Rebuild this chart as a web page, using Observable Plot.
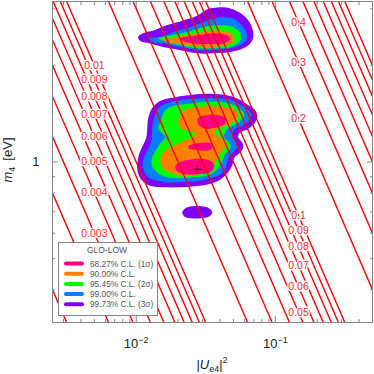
<!DOCTYPE html>
<html><head><meta charset="utf-8">
<script src="https://cdn.jsdelivr.net/npm/d3@7"></script>
<script src="https://cdn.jsdelivr.net/npm/@observablehq/plot@0.6"></script>
<style>body{margin:0;background:#fff}#chart{width:374px;height:374px;position:relative}</style>
</head><body><div id="chart"></div>
<script>
// iso-lines of |U_e4|^2 * m_4 [eV]
const levels = [0.001,0.002,0.003,0.004,0.005,0.006,0.007,0.008,0.009,
  0.01,0.02,0.03,0.04,0.05,0.06,0.07,0.08,0.09,
  0.1,0.2,0.3,0.4,0.5,0.6,0.7,0.8,0.9,1];
const labelsLow = [0.003,0.004,0.005,0.006,0.007,0.008,0.009,0.01];
const labelsHigh = [0.05,0.06,0.07,0.08,0.09,0.1,0.2,0.3,0.4];

const xMajor = [0.01, 0.1];
const xMinor = [0.003,0.004,0.005,0.006,0.007,0.008,0.009,0.02,0.03,0.04,0.05,0.06,0.07,0.08,0.09,0.2,0.3,0.4];
const yMajor = [1];
const yMinor = [0.4,0.5,0.6,0.7,0.8,0.9,2,3];

const legendTitle = "GLO-LOW";
const clLabels = ["68.27% C.L. (1σ)","90.00% C.L.","95.45% C.L. (2σ)","99.00% C.L.","99.73% C.L. (3σ)"];
const clColors = ["#ff0080","#ff8000","#00ff00","#0080ff","#8000ff"];

// allowed regions: [|U_e4|^2, m_4]
const upper3s = [[0.0103,2.45],[0.0112,2.52],[0.0133,2.57],[0.0167,2.67],[0.0218,2.76],[0.0275,2.86],[0.0324,2.99],[0.0383,3.03],[0.0475,3.01],[0.0560,2.91],[0.0640,2.76],[0.0683,2.61],[0.0695,2.45],[0.0661,2.34],[0.0589,2.26],[0.0475,2.20],[0.0358,2.18],[0.0275,2.18],[0.0207,2.23],[0.0156,2.28],[0.0126,2.34],[0.0107,2.38]];
const upper99 = [[0.0122,2.43],[0.0149,2.45],[0.0185,2.54],[0.0245,2.63],[0.0324,2.76],[0.0402,2.82],[0.0499,2.80],[0.0589,2.63],[0.0629,2.45],[0.0589,2.34],[0.0475,2.26],[0.0358,2.23],[0.0275,2.23],[0.0207,2.28],[0.0156,2.34],[0.0133,2.36]];
const upper2s = [[0.0144,2.43],[0.0176,2.48],[0.0233,2.54],[0.0303,2.63],[0.0402,2.67],[0.0499,2.63],[0.0560,2.52],[0.0560,2.39],[0.0475,2.28],[0.0358,2.26],[0.0275,2.26],[0.0207,2.31],[0.0167,2.36]];
const upper90 = [[0.0156,2.39],[0.0197,2.45],[0.0275,2.52],[0.0358,2.57],[0.0452,2.54],[0.0499,2.48],[0.0499,2.36],[0.0423,2.31],[0.0341,2.28],[0.0245,2.31],[0.0185,2.34]];
const upper1s = [[0.0207,2.43],[0.0275,2.48],[0.0358,2.52],[0.0452,2.48],[0.0475,2.41],[0.0423,2.34],[0.0341,2.33],[0.0257,2.34],[0.0218,2.38]];

const main3s = [[0.0130,1.47],[0.0142,1.53],[0.0162,1.57],[0.0191,1.59],[0.0225,1.61],[0.0289,1.63],[0.0370,1.63],[0.0459,1.61],[0.0542,1.57],[0.0629,1.51],[0.0706,1.46],[0.0742,1.40],[0.0718,1.33],[0.0640,1.27],[0.0551,1.23],[0.0542,1.19],[0.0579,1.15],[0.0589,1.11],[0.0560,1.07],[0.0507,1.03],[0.0491,0.977],[0.0452,0.922],[0.0396,0.877],[0.0330,0.852],[0.0266,0.840],[0.0207,0.834],[0.0162,0.834],[0.0130,0.840],[0.0116,0.858],[0.0107,0.890],[0.0102,0.942],[0.0102,0.998],[0.0105,1.06],[0.0112,1.13],[0.0118,1.19],[0.0120,1.27],[0.0122,1.37]];
const main99 = [[0.0133,1.35],[0.0144,1.47],[0.0162,1.52],[0.0207,1.56],[0.0289,1.58],[0.0370,1.58],[0.0459,1.57],[0.0542,1.52],[0.0619,1.47],[0.0672,1.41],[0.0650,1.35],[0.0589,1.30],[0.0507,1.26],[0.0491,1.19],[0.0524,1.15],[0.0533,1.11],[0.0499,1.07],[0.0459,1.03],[0.0444,0.970],[0.0402,0.916],[0.0324,0.883],[0.0266,0.871],[0.0207,0.865],[0.0162,0.865],[0.0137,0.877],[0.0120,0.903],[0.0112,0.956],[0.0112,1.012],[0.0118,1.07],[0.0126,1.13],[0.0130,1.19],[0.0130,1.27]];
const main2s = [[0.0149,1.33],[0.0162,1.45],[0.0191,1.50],[0.0245,1.52],[0.0314,1.54],[0.0402,1.54],[0.0491,1.51],[0.0560,1.46],[0.0599,1.41],[0.0569,1.35],[0.0499,1.30],[0.0444,1.26],[0.0430,1.19],[0.0467,1.15],[0.0475,1.10],[0.0437,1.06],[0.0416,1.01],[0.0389,0.956],[0.0330,0.909],[0.0266,0.896],[0.0207,0.890],[0.0167,0.896],[0.0144,0.922],[0.0130,0.970],[0.0130,1.03],[0.0139,1.09],[0.0149,1.14],[0.0162,1.20],[0.0144,1.27]];
const main90 = [[0.0201,1.35],[0.0218,1.44],[0.0266,1.48],[0.0314,1.49],[0.0402,1.49],[0.0491,1.47],[0.0542,1.42],[0.0524,1.36],[0.0459,1.31],[0.0389,1.27],[0.0364,1.23],[0.0402,1.19],[0.0430,1.15],[0.0430,1.10],[0.0396,1.06],[0.0370,0.998],[0.0341,0.942],[0.0289,0.916],[0.0225,0.909],[0.0182,0.922],[0.0156,0.956],[0.0149,1.012],[0.0156,1.07],[0.0176,1.11],[0.0201,1.14],[0.0225,1.17],[0.0253,1.19],[0.0266,1.23],[0.0237,1.25],[0.0207,1.28]];
const main1sA = [[0.0279,1.37],[0.0324,1.40],[0.0383,1.40],[0.0437,1.37],[0.0430,1.31],[0.0370,1.28],[0.0314,1.27],[0.0279,1.31]];
const main1sB = [[0.0237,1.12],[0.0266,1.14],[0.0324,1.15],[0.0358,1.13],[0.0341,1.09],[0.0275,1.09],[0.0241,1.10]];
const main1sC = [[0.0191,0.970],[0.0207,1.00],[0.0253,1.02],[0.0314,1.02],[0.0352,1.00],[0.0364,0.970],[0.0341,0.929],[0.0279,0.916],[0.0225,0.916],[0.0197,0.935]];
const small3s = [[0.0214,0.697],[0.0225,0.717],[0.0253,0.728],[0.0298,0.728],[0.0335,0.717],[0.0352,0.697],[0.0335,0.677],[0.0289,0.668],[0.0245,0.668],[0.0222,0.677]];
const bestFit = [[0.0275, 0.949]];

const regions = [
  [upper3s, 4], [upper99, 3], [upper2s, 2], [upper90, 1], [upper1s, 0],
  [main3s, 4], [main99, 3], [main2s, 2], [main90, 1], [main1sA, 0], [main1sB, 0], [main1sC, 0],
  [small3s, 4]
];

const xDomain = [0.0025, 0.5];
const yDomain = [Math.sqrt(0.1), Math.sqrt(10)];
const lineData = levels.flatMap(c => xDomain.map(U => ({c, U, m: c / U})));

const gray = "#858585";
const font = "Liberation Sans, Arial, Helvetica, sans-serif";
const tickOpts = {tickFormat: null, label: null, stroke: gray, fill: "none"};
const labelOpts = {text: c => String(c), fill: "#ff2a2a", stroke: "white", strokeWidth: 3, paintOrder: "stroke", fontSize: 10.5};

const svg = Plot.plot({
  width: 374, height: 374,
  marginLeft: 52, marginRight: 2, marginTop: 1, marginBottom: 52,
  style: {fontFamily: font, fontSize: "13px", background: "white", color: "#222"},
  x: {type: "log", domain: xDomain},
  y: {type: "log", domain: yDomain},
  marks: [
    ...regions.map(([pts, k]) => Plot.line(pts, {x: d => d[0], y: d => d[1], fill: clColors[k], stroke: "none", curve: "catmull-rom-closed"})),
    Plot.line(lineData, {x: "U", y: "m", z: "c", stroke: "#ff0000", strokeWidth: 1.4, clip: true}),
    Plot.text(labelsLow, {x: () => 0.005, y: c => c / 0.005, ...labelOpts}),
    Plot.text(labelsHigh, {x: () => 0.147, y: c => c / 0.147, ...labelOpts}),
    Plot.dot(bestFit, {x: d => d[0], y: d => d[1], symbol: "plus", r: 2.8, stroke: "black", strokeWidth: 1}),
    Plot.frame({stroke: gray}),
    Plot.axisX(xMajor, {anchor: "bottom", tickSize: -6, ...tickOpts}),
    Plot.axisX(xMinor, {anchor: "bottom", tickSize: -3, ...tickOpts}),
    Plot.axisX(xMajor, {anchor: "top", tickSize: -6, ...tickOpts}),
    Plot.axisX(xMinor, {anchor: "top", tickSize: -3, ...tickOpts}),
    Plot.axisY(yMajor, {anchor: "left", tickSize: -6, ...tickOpts}),
    Plot.axisY(yMinor, {anchor: "left", tickSize: -3, ...tickOpts}),
    Plot.axisY(yMajor, {anchor: "right", tickSize: -6, ...tickOpts}),
    Plot.axisY(yMinor, {anchor: "right", tickSize: -3, ...tickOpts}),
    Plot.axisX(xMajor, {anchor: "bottom", tickSize: 0, tickPadding: 16, label: null, tickFormat: d => String(Math.round(Math.log10(d)))}),
    Plot.axisY(yMajor, {anchor: "left", tickSize: 0, tickPadding: 13, label: null, tickFormat: d => String(d)})
  ]
});
document.getElementById("chart").appendChild(svg);

const s = d3.select(svg);
// powers of ten as superscripts
s.selectAll('g[aria-label="x-axis tick label"] text').each(function() {
  const t = d3.select(this);
  const e = t.text().replace("-", "\u2212");
  t.text("10");
  t.append("tspan").attr("dy", "-5").attr("font-size", 9).text(e);
});

// axis titles
const xl = s.append("text").attr("x", 212).attr("y", 369).attr("text-anchor", "middle")
  .attr("font-family", font).attr("font-size", 13).attr("fill", "#222");
xl.append("tspan").text("|");
xl.append("tspan").attr("font-style", "italic").text("U");
xl.append("tspan").attr("font-size", 9).attr("dy", 3).text("e4");
xl.append("tspan").attr("dy", -3).text("|");
xl.append("tspan").attr("font-size", 9).attr("dy", -6).text("2");

const yl = s.append("text").attr("transform", "translate(12,160) rotate(-90)").attr("text-anchor", "middle")
  .attr("font-family", font).attr("font-size", 13).attr("fill", "#222");
yl.append("tspan").attr("font-style", "italic").text("m");
yl.append("tspan").attr("font-size", 9).attr("dy", 3).text("4");
yl.append("tspan").attr("dy", -3).attr("dx", 6).text("[eV]");

// legend
const lg = s.append("g").attr("font-family", font).attr("text-anchor", "start");
lg.append("rect").attr("x", 58.5).attr("y", 242.5).attr("width", 99).attr("height", 73)
  .attr("fill", "white").attr("stroke", "#858585");
lg.append("text").attr("x", 107).attr("y", 253).attr("text-anchor", "middle")
  .attr("font-size", 8.5).attr("fill", "#555").text(legendTitle);
clLabels.forEach((lab, i) => {
  const y = 263.5 + i * 10.2;
  lg.append("line").attr("x1", 66).attr("x2", 82).attr("y1", y).attr("y2", y)
    .attr("stroke", clColors[i]).attr("stroke-width", 4).attr("stroke-linecap", "round");
  lg.append("text").attr("x", 90).attr("y", y + 3).attr("text-anchor", "start")
    .attr("font-size", 8.3).attr("fill", "#555").text(lab);
});
</script>
</body></html>
